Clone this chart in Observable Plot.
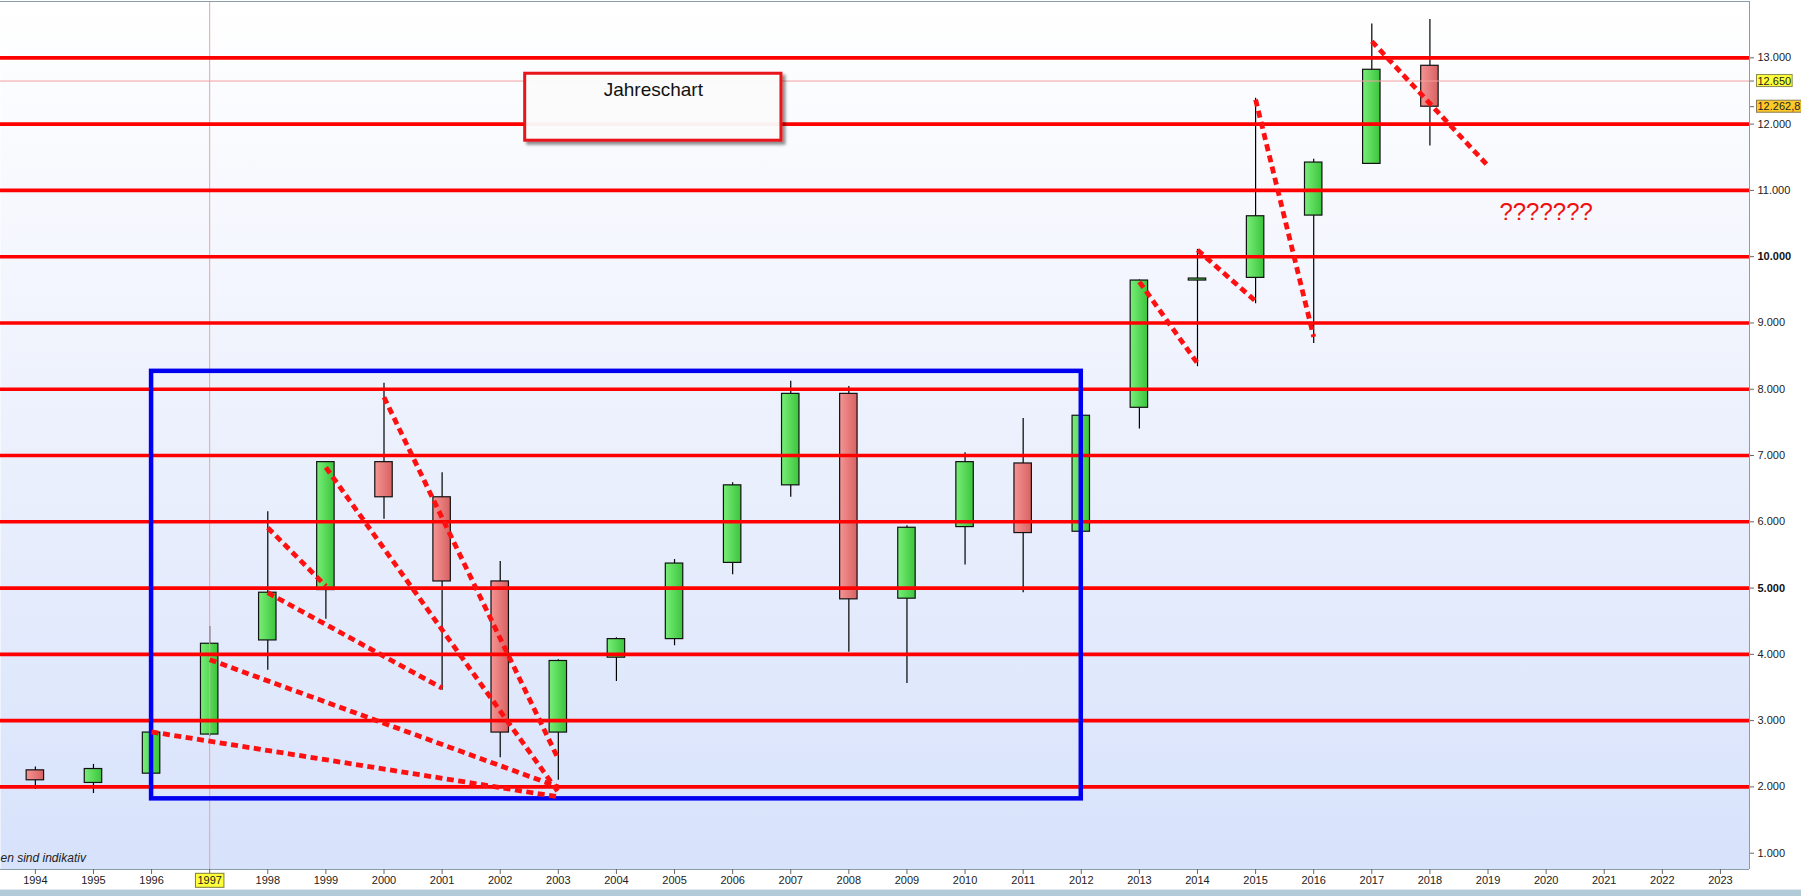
<!DOCTYPE html>
<html>
<head>
<meta charset="utf-8">
<script src="https://cdn.jsdelivr.net/npm/d3@7"></script>
<script src="https://cdn.jsdelivr.net/npm/@observablehq/plot@0.6"></script>
<style>
html, body { margin: 0; padding: 0; background: #ffffff; overflow: hidden; }
#chart svg { display: block; overflow: hidden; }
</style>
</head>
<body>
<div id="chart"></div>
<script>
// ---- Data (annual candles) ----
const years  = [1994, 1995, 1996, 1997, 1998, 1999, 2000, 2001, 2002, 2003, 2004, 2005, 2006, 2007, 2008, 2009, 2010, 2011, 2012, 2013, 2014, 2015, 2016, 2017, 2018];
const open   = [2250, 2060, 2200, 2790, 4210, 4970, 6900, 6370, 5100, 2820, 3950, 4230, 5380, 6550, 7930, 4840, 5920, 6880, 5850, 7720, 9640, 9680, 10620, 11400, 12880];
const high   = [2300, 2340, 2830, 4420, 6150, 6910, 8090, 6740, 5400, 3920, 4250, 5430, 6590, 8120, 8040, 5940, 7040, 7560, 7620, 9650, 10110, 12390, 11470, 13510, 13580];
const low    = [1960, 1900, 2200, 2760, 3760, 4530, 6040, 3460, 2440, 2100, 3590, 4130, 5200, 6370, 4030, 3560, 5350, 4930, 5850, 7400, 8340, 9290, 8690, 11400, 11670];
const close  = [2100, 2270, 2820, 4160, 4930, 6900, 6370, 5100, 2820, 3900, 4230, 5370, 6550, 7930, 4830, 5910, 6900, 5830, 7600, 9640, 9670, 10610, 11420, 12820, 12262.8];

// horizontal support/resistance levels
const levels = [2000, 3000, 4000, 5000, 6000, 7000, 8000, 9000, 10000, 11000, 12000, 13000];

// axis tick labels
const yTicks     = [1000, 2000, 3000, 4000, 6000, 7000, 8000, 9000, 11000, 12000, 13000];
const yTicksBold = [5000, 10000];
const xTicks     = [1994, 1995, 1996, 1997, 1998, 1999, 2000, 2001, 2002, 2003, 2004, 2005, 2006, 2007, 2008, 2009, 2010, 2011, 2012, 2013, 2014, 2015, 2016, 2017, 2018, 2019, 2020, 2021, 2022, 2023];

// dotted trend lines
const trendYear1  = [1996, 1997, 1998, 1998, 1999, 2000, 2013, 2014, 2015, 2017];
const trendValue1 = [2830, 3920, 4930, 5910, 6820, 7880, 9620, 10100, 12370, 13250];
const trendYear2  = [2003, 2003, 2001, 1999, 2003, 2003, 2014, 2015, 2016, 2019];
const trendValue2 = [1850, 2000, 3490, 5030, 1920, 2420, 8390, 9330, 8790, 11370];

// blue range box
const rangeYears  = [1996, 2012];
const rangeValues = [1820, 8270];

// cursor / marker lines
const cursorYear   = 1997;
const markerValues = [12650, 12262.8];
const markerLabels = ["12.650", "12.262,8"];

// annotations
const titleText      = "Jahreschart";
const titleBoxYears  = [2002.43, 2006.84];
const titleBoxValues = [11750, 12760];
const titleTextValue = 12510;
const questionText   = "???????";
const questionYear   = 2020;
const questionValue  = 10670;
const noteText       = "en sind indikativ";

// ---- Build tables ----
const candles = years.map((y, i) => ({year: y, open: open[i], high: high[i], low: low[i], close: close[i]}));
const up = candles.filter(d => d.close >= d.open);
const down = candles.filter(d => d.close < d.open);
const trends = trendYear1.map((y, i) => ({x1: y, y1: trendValue1[i], x2: trendYear2[i], y2: trendValue2[i]}));
const rangeBox = [{x1: rangeYears[0], x2: rangeYears[1], y1: rangeValues[0], y2: rangeValues[1]}];
const titleBox = [{x1: titleBoxYears[0], x2: titleBoxYears[1], y1: titleBoxValues[0], y2: titleBoxValues[1]}];

const de = d3.formatLocale({decimal: ",", thousands: ".", grouping: [3], currency: ["", "€"]});
const fmt = de.format(",d");

const xDomain = [1993.4, 2023.5];
const yDomain = [754, 13850];
const halfBody = 0.15;

const chart = Plot.plot({
  width: 1801,
  height: 896,
  marginLeft: 0,
  marginRight: 52,
  marginTop: 1,
  marginBottom: 27,
  style: {background: "transparent", fontFamily: "'Liberation Sans', Arial, sans-serif", fontSize: "11px", color: "#222", overflow: "hidden"},
  x: {domain: xDomain, axis: null},
  y: {domain: yDomain, axis: null},
  marks: [
    Plot.frame({fill: "url(#bgGrad)", stroke: null}),
    // wicks
    Plot.ruleX(candles, {x: "year", y1: "low", y2: "high", stroke: "#000", strokeWidth: 1.2}),
    // bodies
    Plot.rect(up, {x1: d => d.year - halfBody, x2: d => d.year + halfBody, y1: "open", y2: "close", fill: "url(#gUp)", stroke: "#111", strokeWidth: 1.2}),
    Plot.rect(down, {x1: d => d.year - halfBody, x2: d => d.year + halfBody, y1: "open", y2: "close", fill: "url(#gDown)", stroke: "#111", strokeWidth: 1.2}),
    // cursor lines
    Plot.ruleX([cursorYear], {stroke: "#f2a0a0", strokeWidth: 1}),
    Plot.ruleY([markerValues[0]], {stroke: "#f2a0a0", strokeWidth: 1}),
    // red levels
    Plot.ruleY(levels, {stroke: "#ff0000", strokeWidth: 3.6}),
    // blue range box
    Plot.rect(rangeBox, {x1: "x1", x2: "x2", y1: "y1", y2: "y2", fill: "none", stroke: "#0000f0", strokeWidth: 4.5}),
    // dotted trend lines
    Plot.link(trends, {x1: "x1", y1: "y1", x2: "x2", y2: "y2", stroke: "#ff1010", strokeWidth: 4.8, strokeDasharray: "7,4.5"}),
    // title box
    Plot.rect(titleBox, {x1: "x1", x2: "x2", y1: "y1", y2: "y2", fill: "#ffffff", fillOpacity: 0.93, stroke: "#e8141a", strokeWidth: 3}),
    Plot.text([titleText], {x: (titleBoxYears[0] + titleBoxYears[1]) / 2, y: titleTextValue, text: d => d, fontSize: 19, fill: "#111", lineAnchor: "middle"}),
    // question marks
    Plot.text([questionText], {x: questionYear, y: questionValue, text: d => d, fontSize: 24, fill: "#f01010", lineAnchor: "middle"}),
    // note at bottom-left
    Plot.text([noteText], {frameAnchor: "bottom-left", text: d => d, textAnchor: "start", dx: 0, dy: -8, fontSize: 12, fontStyle: "italic", fill: "#222"}),
    // frame lines
    Plot.ruleY([yDomain[0]], {stroke: "#8d9cab", strokeWidth: 1}),
    Plot.ruleY([yDomain[1]], {stroke: "#8d9cab", strokeWidth: 1}),
    Plot.ruleX([xDomain[1]], {stroke: "#8d9cab", strokeWidth: 1}),
    // axes
    Plot.axisX({ticks: xTicks, tickFormat: d => String(d), tickSize: 5, tickPadding: 2, fontSize: 11, stroke: "#666", fill: "#222"}),
    Plot.axisY({anchor: "right", ticks: yTicks, tickFormat: fmt, tickSize: 4, tickPadding: 4, fontSize: 11, stroke: "#666", fill: "#222"}),
    Plot.axisY({anchor: "right", ticks: yTicksBold, tickFormat: fmt, tickSize: 4, tickPadding: 4, fontSize: 11, fontWeight: "bold", stroke: "#666", fill: "#111"}),
    Plot.axisY({anchor: "right", ticks: markerValues, tickFormat: d => markerLabels[markerValues.indexOf(d)], tickSize: 4, tickPadding: 4, fontSize: 11, stroke: "#666", fill: "#222"})
  ]
});

document.getElementById("chart").appendChild(chart);

// ---- Decorations: gradients, bands, label highlights ----
const svg = d3.select(chart);
const defs = svg.insert("defs", ":first-child");
const bg = defs.append("linearGradient").attr("id", "bgGrad").attr("x1", 0).attr("y1", 0).attr("x2", 0).attr("y2", 1);
bg.append("stop").attr("offset", "0%").attr("stop-color", "#ffffff");
bg.append("stop").attr("offset", "45%").attr("stop-color", "#eef2fd");
bg.append("stop").attr("offset", "100%").attr("stop-color", "#d7e2fb");
const gu = defs.append("linearGradient").attr("id", "gUp").attr("x1", 0).attr("y1", 0).attr("x2", 1).attr("y2", 0);
gu.append("stop").attr("offset", "0%").attr("stop-color", "#78ee78");
gu.append("stop").attr("offset", "100%").attr("stop-color", "#3cc43c");
const gd = defs.append("linearGradient").attr("id", "gDown").attr("x1", 0).attr("y1", 0).attr("x2", 1).attr("y2", 0);
gd.append("stop").attr("offset", "0%").attr("stop-color", "#f59494");
gd.append("stop").attr("offset", "100%").attr("stop-color", "#d86262");
const sh = defs.append("filter").attr("id", "boxShadow").attr("x", "-10%").attr("y", "-10%").attr("width", "130%").attr("height", "140%");
sh.append("feDropShadow").attr("dx", 3).attr("dy", 3).attr("stdDeviation", 1.5).attr("flood-color", "#000").attr("flood-opacity", 0.45);

// bottom strip
svg.insert("rect", "defs + *").attr("x", 0).attr("y", 890).attr("width", 1801).attr("height", 6).attr("fill", "#b3cbd9");
svg.insert("rect", "defs + *").attr("x", 0).attr("y", 889).attr("width", 1801).attr("height", 1).attr("fill", "#dfe8ee");

// shadow for title box
svg.selectAll("g").filter(function() {
  return this.getAttribute("stroke") === "#e8141a";
}).attr("filter", "url(#boxShadow)");

function highlight(label, fill, stroke, padX, padY) {
  svg.selectAll("text").each(function() {
    if (this.textContent === label) {
      const b = this.getBBox();
      const t = this.getAttribute("transform");
      const r = d3.select(this.parentNode).insert("rect", () => this)
        .attr("x", b.x - padX).attr("y", b.y - padY)
        .attr("width", b.width + 2 * padX).attr("height", b.height + 2 * padY)
        .attr("fill", fill).attr("stroke", stroke).attr("stroke-width", 1);
      if (t) r.attr("transform", t);
    }
  });
}
highlight(String(cursorYear), "#ffff3a", "#7d7d3a", 2, 1);
highlight(markerLabels[0], "#ffff3a", "#8b8b50", 1, 0);
highlight(markerLabels[1], "#ffc928", "#8b7a50", 1, 0);
</script>
</body>
</html>
